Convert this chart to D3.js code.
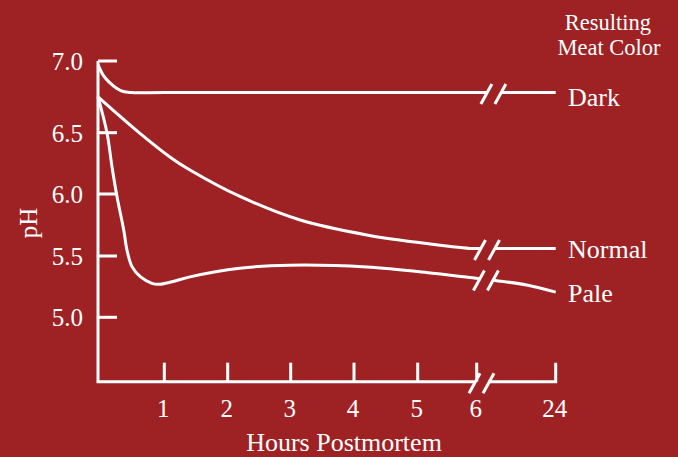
<!DOCTYPE html>
<html><head><meta charset="utf-8">
<script src="https://cdn.jsdelivr.net/npm/d3@7"></script>
<style>html,body{margin:0;padding:0;background:#9e2224;}svg{display:block}</style>
</head><body><svg id="c" width="678" height="457"></svg>
<script>
// ---- data ----
const hourTicks = [1, 2, 3, 4, 5, 6, 24];
const phTicks = [5.0, 5.5, 6.0, 6.5, 7.0];
const phTickLabels = ["5.0", "5.5", "6.0", "6.5", "7.0"];
const seriesNames = ["Dark", "Normal", "Pale"];
const darkHours = [0, 0.08, 0.18, 0.28, 0.38, 0.5, 1, 6, 24];
const darkPH    = [6.975, 6.90, 6.847, 6.81, 6.787, 6.78, 6.78, 6.78, 6.78];
const normalHours = [0, 0.633, 1.121, 1.405, 2.195, 3.15, 4.2, 5.25, 5.93, 6, 24];
const normalPH    = [6.75, 6.495, 6.29, 6.196, 5.98, 5.79, 5.67, 5.595, 5.56, 5.56, 5.56];
const paleHours = [0, 0.136, 0.211, 0.287, 0.388, 0.437, 0.513, 0.638, 0.814, 0.916, 1.121, 1.405, 2.19, 2.98, 4.2, 5.25, 5.88, 10.2, 17.4, 24];
const palePH    = [6.75, 6.498, 6.223, 5.978, 5.71, 5.548, 5.413, 5.331, 5.277, 5.269, 5.29, 5.33, 5.40, 5.425, 5.41, 5.36, 5.325, 5.30, 5.264, 5.205];
const breakHours = [9.8, 8.35, 8.1]; // where each series is broken (hours, in the 6–24 stretch)
const axisBreakHour = 7.1;
const axisBottomPH = 4.475;

// ---- layout ----
const W = 678, H = 457;
const fg = "#ffffff";
const font = "'Liberation Serif', 'Times New Roman', serif";
const svg = d3.select("#c");
svg.append("rect").attr("width", W).attr("height", H).attr("fill", "#9e2224");

const x = d3.scaleLinear().domain([0, 1, 2, 3, 4, 5, 6, 24])
  .range([98, 164.3, 227.7, 290.7, 354, 417.7, 476.7, 555.7]);
const y = d3.scaleLinear().domain([5.0, 5.5, 6.0, 6.5, 7.0])
  .range([317.3, 256, 194, 132.7, 61]);

const sw = 3;
const tickLen = 19;
const gap = 7;
const axisY = y(axisBottomPH);
const x0 = x(0);

const defs = svg.append("defs");
function makeClip(id, bx) {
  const cp = defs.append("clipPath").attr("id", id);
  cp.append("rect").attr("x", 0).attr("y", 0).attr("width", bx - gap).attr("height", H);
  cp.append("rect").attr("x", bx + gap).attr("y", 0).attr("width", W - bx - gap).attr("height", H);
}
function slashes(g, bx, by) {
  [-gap, gap].forEach(o => {
    g.append("line")
      .attr("x1", bx + o - 5.5).attr("y1", by + 10)
      .attr("x2", bx + o + 5.5).attr("y2", by - 10)
      .attr("stroke", fg).attr("stroke-width", sw);
  });
}

// ---- axes ----
const ax = svg.append("g");
const axBx = x(axisBreakHour);
makeClip("clip-axis", axBx);
ax.append("path")
  .attr("d", d3.line()([[x0, y(7.0)], [x0, axisY], [x(24), axisY], [x(24), axisY - tickLen]]))
  .attr("fill", "none").attr("stroke", fg).attr("stroke-width", sw)
  .attr("clip-path", "url(#clip-axis)");
slashes(ax, axBx, axisY + 1.5);

phTicks.forEach((v, i) => {
  ax.append("line").attr("x1", x0).attr("x2", x0 + tickLen)
    .attr("y1", y(v)).attr("y2", y(v)).attr("stroke", fg).attr("stroke-width", sw);
  ax.append("text").attr("x", 83).attr("y", y(v) + 8.8)
    .attr("text-anchor", "end").attr("fill", fg)
    .style("font-family", font).style("font-size", "25px").text(phTickLabels[i]);
});
hourTicks.forEach(h => {
  if (h !== 24) {
    ax.append("line").attr("x1", x(h)).attr("x2", x(h))
      .attr("y1", axisY).attr("y2", axisY - tickLen).attr("stroke", fg).attr("stroke-width", sw);
  }
  ax.append("text").attr("x", x(h) - 1).attr("y", 417)
    .attr("text-anchor", "middle").attr("fill", fg)
    .style("font-family", font).style("font-size", "25px").text(h);
});
svg.append("text").attr("x", 344).attr("y", 451).attr("text-anchor", "middle")
  .attr("fill", fg).style("font-family", font).style("font-size", "26px").text("Hours Postmortem");
svg.append("text").attr("transform", "translate(37,223) rotate(-90)").attr("text-anchor", "middle")
  .attr("fill", fg).style("font-family", font).style("font-size", "25px").text("pH");

// ---- series ----
const seriesData = [
  darkHours.map((h, i) => [h, darkPH[i]]),
  normalHours.map((h, i) => [h, normalPH[i]]),
  paleHours.map((h, i) => [h, palePH[i]])
];
const labelDy = [13, 9, 10];
const line = d3.line().x(d => x(d[0])).y(d => y(d[1])).curve(d3.curveCatmullRom.alpha(0.5));
function phAt(data, h) {
  for (let i = 1; i < data.length; i++) {
    if (h <= data[i][0]) {
      const t = (h - data[i-1][0]) / (data[i][0] - data[i-1][0]);
      return data[i-1][1] + t * (data[i][1] - data[i-1][1]);
    }
  }
  return data[data.length-1][1];
}
seriesData.forEach((data, i) => {
  const bx = x(breakHours[i]);
  const id = "clip-" + seriesNames[i];
  makeClip(id, bx);
  const g = svg.append("g");
  g.append("path").attr("d", line(data)).attr("fill", "none")
    .attr("stroke", fg).attr("stroke-width", sw).attr("clip-path", `url(#${id})`);
  slashes(g, bx, y(phAt(data, breakHours[i])) + 1.5);
  const last = data[data.length - 1];
  g.append("text").attr("x", 568).attr("y", y(last[1]) + labelDy[i])
    .attr("fill", fg).style("font-family", font).style("font-size", "26px").text(seriesNames[i]);
});

// ---- legend title ----
svg.append("text").attr("x", 608).attr("y", 30).attr("text-anchor", "middle")
  .attr("fill", fg).style("font-family", font).style("font-size", "22.5px").text("Resulting");
svg.append("text").attr("x", 609).attr("y", 55).attr("text-anchor", "middle")
  .attr("fill", fg).style("font-family", font).style("font-size", "22.5px").text("Meat Color");
</script></body></html>
